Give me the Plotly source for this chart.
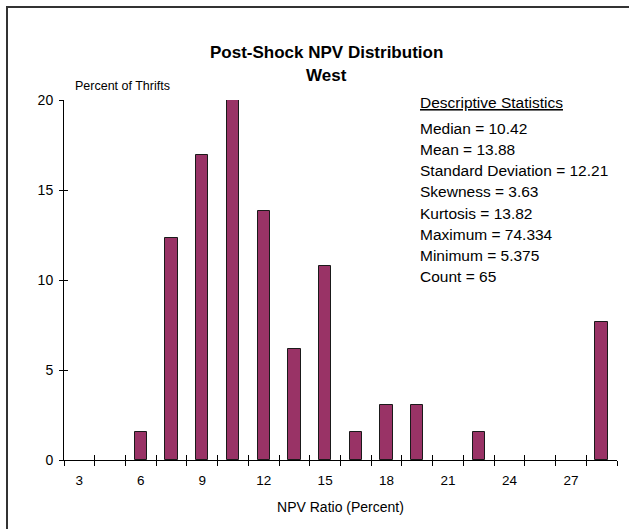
import plotly.graph_objects as go

# Histogram bins (NPV ratio, percent) and share of thrifts in each bin
bin_centers = [6, 7.5, 9, 10.5, 12, 13.5, 15, 16.5, 18, 19.5, 22.5, 28.5]
percent_of_thrifts = [1.54, 12.31, 16.92, 20.0, 13.85, 6.15, 10.77, 1.54, 3.08, 3.08, 1.54, 7.69]

x_tick_values = [3, 6, 9, 12, 15, 18, 21, 24, 27]
x_tick_labels = ["3", "6", "9", "12", "15", "18", "21", "24", "27"]
y_tick_values = [0, 5, 10, 15, 20]
bin_edges = [2.25 + 1.5 * i for i in range(19)]

stats_title = "Descriptive Statistics"
stats_lines = [
    "Median = 10.42",
    "Mean = 13.88",
    "Standard Deviation = 12.21",
    "Skewness = 3.63",
    "Kurtosis = 13.82",
    "Maximum = 74.334",
    "Minimum = 5.375",
    "Count = 65",
]

W, H = 629, 529
L, R, T, B = 64, 12, 100, 69
PW, PH = W - L - R, H - T - B
FONT = "Liberation Sans, Arial, sans-serif"


def px_x(x):
    return (x - L) / PW


def px_y(y):
    return (H - B - y) / PH


fig = go.Figure()
fig.add_trace(go.Bar(
    x=bin_centers, y=percent_of_thrifts, width=0.6,
    marker=dict(color="#993366", line=dict(color="#1a1a1a", width=1)),
    showlegend=False, hoverinfo="x+y",
))
# empty trace so the overlay axes (inner half of the crossing ticks) are drawn
fig.add_trace(go.Scatter(x=[], y=[], xaxis="x2", yaxis="y2", showlegend=False))

axis_font = dict(family=FONT, size=13.5, color="black")

fig.update_layout(
    width=W, height=H,
    margin=dict(l=L, r=R, t=T, b=B),
    paper_bgcolor="white", plot_bgcolor="white",
    font=dict(family=FONT, color="black"),
    bargap=0,
    xaxis=dict(
        range=[2.25, 29.25], showgrid=False, zeroline=False,
        showline=True, linecolor="black", linewidth=1,
        tickmode="array", tickvals=x_tick_values, ticktext=x_tick_labels,
        ticks="", tickfont=axis_font, ticklabelstandoff=8,
        minor=dict(tickmode="array", tickvals=bin_edges, ticks="outside",
                   ticklen=5, tickcolor="black", tickwidth=1, showgrid=False),
        title=dict(text="NPV Ratio (Percent)", font=dict(family=FONT, size=14), standoff=14),
    ),
    xaxis2=dict(
        range=[2.25, 29.25], overlaying="x", anchor="y", side="bottom",
        showgrid=False, zeroline=False, showline=False, showticklabels=False,
        tickmode="array", tickvals=bin_edges, ticks="inside",
        ticklen=5, tickcolor="black", tickwidth=1,
    ),
    yaxis=dict(
        range=[0, 20], showgrid=False, zeroline=False,
        showline=True, linecolor="black", linewidth=1,
        tickmode="array", tickvals=y_tick_values, ticks="outside",
        ticklen=4, tickcolor="black", tickwidth=1,
        tickfont=dict(family=FONT, size=14, color="black"),
        ticklabelstandoff=3,
    ),
    yaxis2=dict(
        range=[0, 20], overlaying="y", anchor="x", side="left",
        showgrid=False, zeroline=False, showline=False, showticklabels=False,
        tickmode="array", tickvals=y_tick_values, ticks="inside",
        ticklen=4, tickcolor="black", tickwidth=1,
    ),
)

annotations = [
    dict(text="<b>Post-Shock NPV Distribution</b>", x=px_x(326), y=px_y(52),
         font=dict(size=17)),
    dict(text="<b>West</b>", x=px_x(326), y=px_y(75), font=dict(size=17)),
    dict(text="Percent of Thrifts", x=px_x(73), y=px_y(86), xanchor="left",
         font=dict(size=12.5)),
    dict(text='<span style="text-decoration:underline">' + stats_title + "</span>",
         x=px_x(418), y=px_y(103), xanchor="left", font=dict(size=15.5)),
]
y0, step = 128.3, 21.2
for i, line in enumerate(stats_lines):
    annotations.append(dict(text=line, x=px_x(418), y=px_y(y0 + i * step),
                            xanchor="left", font=dict(size=15.5)))
for a in annotations:
    a.setdefault("xanchor", "center")
    a.update(xref="paper", yref="paper", yanchor="middle", showarrow=False)
    a["font"].update(family=FONT, color="black")
fig.update_layout(annotations=annotations)

# chart frame
fig.add_shape(type="rect", xref="paper", yref="paper",
              x0=px_x(7), x1=px_x(W + 20), y0=px_y(H + 20), y1=px_y(7),
              line=dict(color="#333333", width=2), fillcolor="rgba(0,0,0,0)")

fig.write_html("out.html")
